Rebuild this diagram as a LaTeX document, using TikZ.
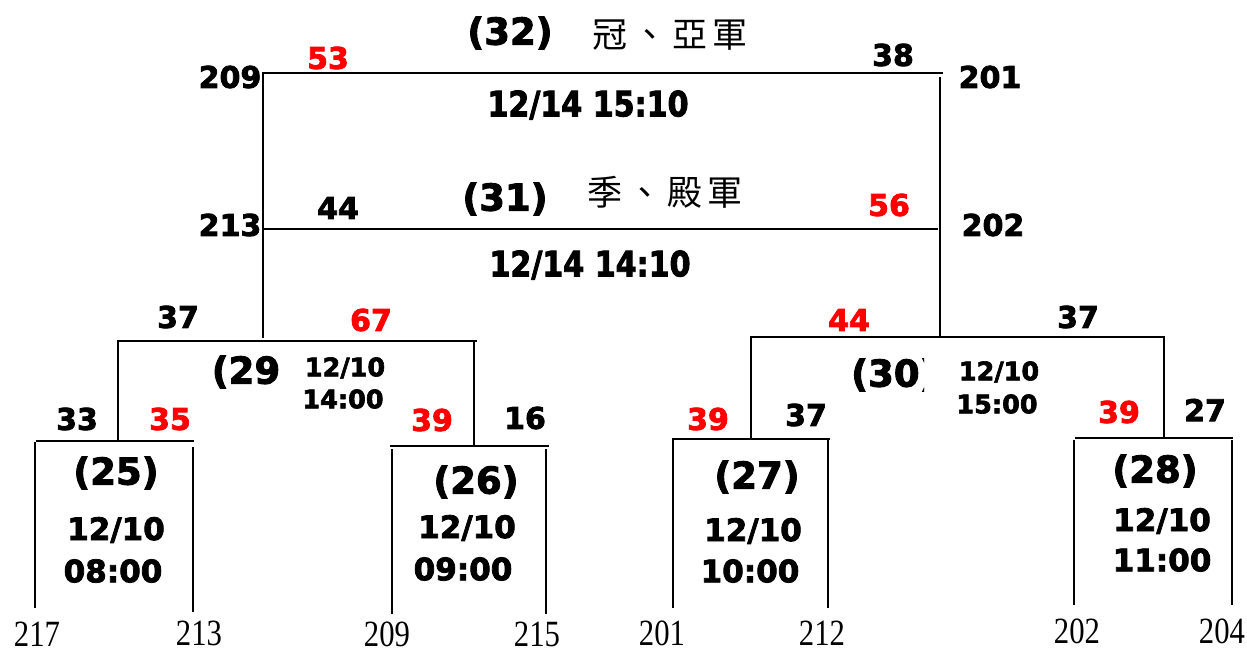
\documentclass[tikz,border=0pt]{standalone}
\usepackage{fontspec}
\newfontfamily\heavy[FakeBold=2.5]{DejaVu Sans Bold}
\newfontfamily\heavynarrow[FakeStretch=0.86,FakeBold=2.5]{DejaVu Sans Bold}
\newfontfamily\seedfont[FakeStretch=0.83]{Liberation Serif}
\newfontfamily\cjkfont[LetterSpace=14]{Noto Sans CJK TC}
\definecolor{scorered}{RGB}{255,0,0}
\tikzset{
  br/.style={line width=1.7pt, line cap=rect},
  lbl/.style={inner sep=0pt, font=\fontsize{30}{32}\heavy},
  win/.style={lbl, text=scorered},
  title/.style={inner sep=0pt, font=\fontsize{37}{39}\heavy},
  datebig/.style={inner sep=0pt, font=\fontsize{35}{37}\heavynarrow},
  datemid/.style={inner sep=0pt, font=\fontsize{31}{33}\heavy},
  datesm/.style={inner sep=0pt, font=\fontsize{25.5}{27}\heavy},
  seed/.style={inner sep=0pt, font=\fontsize{37}{39}\seedfont},
  cjk/.style={inner sep=0pt, font=\fontsize{35}{37}\cjkfont},
}
\begin{document}
\begin{tikzpicture}[x=1pt,y=-1pt]
\useasboundingbox[fill=white] (0,0) rectangle (1247,653);

% ---------- coordinates ----------
% final (32)
\coordinate (fL) at (263,73);  \coordinate (fR) at (942,73);
\coordinate (fLb) at (263,337);
\coordinate (fRt) at (940,78); \coordinate (fRb) at (940,337);
% 3rd place (31)
\coordinate (tL) at (263,229); \coordinate (tR) at (937,229);
% match 29
\coordinate (m29L) at (118,341); \coordinate (m29R) at (476,341);
\coordinate (m29Lb) at (118,441);
\coordinate (m29Rt) at (474,343); \coordinate (m29Rb) at (474,445);
% match 30
\coordinate (m30L) at (751,337); \coordinate (m30R) at (1164,337);
\coordinate (m30Lt) at (751,339); \coordinate (m30Lb) at (751,439);
\coordinate (m30Rt) at (1164,339); \coordinate (m30Rb) at (1164,438);
% match 25
\coordinate (m25L) at (37,441); \coordinate (m25R) at (193,441);
\coordinate (m25Lt) at (35,443); \coordinate (m25Lb) at (35,607);
\coordinate (m25Rt) at (193,448); \coordinate (m25Rb) at (193,611);
% match 26
\coordinate (m26L) at (391,446); \coordinate (m26R) at (548,446);
\coordinate (m26Lt) at (392,450); \coordinate (m26Lb) at (392,613);
\coordinate (m26Rt) at (546,450); \coordinate (m26Rb) at (546,613);
% match 27
\coordinate (m27L) at (673,439); \coordinate (m27R) at (829,439);
\coordinate (m27Lt) at (673,441); \coordinate (m27Lb) at (673,607);
\coordinate (m27Rt) at (828,441); \coordinate (m27Rb) at (828,607);
% match 28
\coordinate (m28L) at (1076,438); \coordinate (m28R) at (1232,438);
\coordinate (m28Lt) at (1074,441); \coordinate (m28Lb) at (1074,604);
\coordinate (m28Rt) at (1232,441); \coordinate (m28Rb) at (1232,604);

% ---------- bracket lines ----------
\draw[br] (fL) -- (fR);
\draw[br] (fL) -- (fLb);
\draw[br] (fRt) -- (fRb);
\draw[br] (tL) -- (tR);
\draw[br] (m29L) -- (m29R);
\draw[br] (m29L) -- (m29Lb);
\draw[br] (m29Rt) -- (m29Rb);
\draw[br] (m30L) -- (m30R);
\draw[br] (m30Lt) -- (m30Lb);
\draw[br] (m30Rt) -- (m30Rb);
\draw[br] (m25L) -- (m25R);
\draw[br] (m25Lt) -- (m25Lb);
\draw[br] (m25Rt) -- (m25Rb);
\draw[br] (m26L) -- (m26R);
\draw[br] (m26Lt) -- (m26Lb);
\draw[br] (m26Rt) -- (m26Rb);
\draw[br] (m27L) -- (m27R);
\draw[br] (m27Lt) -- (m27Lb);
\draw[br] (m27Rt) -- (m27Rb);
\draw[br] (m28L) -- (m28R);
\draw[br] (m28Lt) -- (m28Lb);
\draw[br] (m28Rt) -- (m28Rb);

% ---------- top: final and 3rd place ----------
\node[title] (t32) at (510,33) {(32)};
\node[cjk] (c32) at (670,35) {冠、亞軍};
\node[lbl] (s209a) at (230,77) {209};
\node[win] (sc53) at (328,58) {53};
\node[lbl] (sc38) at (893,55) {38};
\node[lbl] (s201a) at (990,77) {201};
\node[datebig] (d32) at (588,105) {12/14 15:10};

\node[title] (t31) at (505,199) {(31)};
\node[cjk] (c31) at (665,192) {季、殿軍};
\node[lbl] (sc44a) at (338,208) {44};
\node[win] (sc56) at (889,205) {56};
\node[lbl] (s213a) at (230,225) {213};
\node[lbl] (s202a) at (993,225) {202};
\node[datebig] (d31) at (590,265) {12/14 14:10};

% ---------- match 29 ----------
\node[lbl] (sc37a) at (178,317) {37};
\node[win] (sc67) at (371,320) {67};
\node[title] (t29) at (246,372) {(29};
\node[datesm] (d29a) at (345,368) {12/10};
\node[datesm] (d29b) at (343,399) {14:00};

% ---------- match 30 ----------
\node[win] (sc44b) at (849,320) {44};
\node[lbl] (sc37b) at (1078,317) {37};
\begin{scope}
\clip (840,340) rectangle (924,405);
\node[title, anchor=west] (t30) at (851,375) {(30)};
\end{scope}
\node[datesm] (d30a) at (999,372) {12/10};
\node[datesm] (d30b) at (997,404) {15:00};

% ---------- first-round scores ----------
\node[lbl] (sc33) at (77,419) {33};
\node[win] (sc35) at (170,419) {35};
\node[win] (sc39a) at (432,420) {39};
\node[lbl] (sc16) at (525,418) {16};
\node[win] (sc39b) at (708,419) {39};
\node[lbl] (sc37c) at (806,415) {37};
\node[win] (sc39c) at (1119,412) {39};
\node[lbl] (sc27) at (1205,410) {27};

% ---------- first-round matches ----------
\node[title] (t25) at (116,473) {(25)};
\node[datemid] (d25a) at (116,530) {12/10};
\node[datemid] (d25b) at (113,571) {08:00};

\node[title] (t26) at (476,482) {(26)};
\node[datemid] (d26a) at (467,528) {12/10};
\node[datemid] (d26b) at (463,569) {09:00};

\node[title] (t27) at (757,477) {(27)};
\node[datemid] (d27a) at (753,531) {12/10};
\node[datemid] (d27b) at (750,571) {10:00};

\node[title] (t28) at (1155,471) {(28)};
\node[datemid] (d28a) at (1162,521) {12/10};
\node[datemid] (d28b) at (1162,560) {11:00};

% ---------- seeds at the bottom ----------
\node[seed] (b217) at (37,634) {217};
\node[seed] (b213) at (199,633) {213};
\node[seed] (b209) at (387,634) {209};
\node[seed] (b215) at (537,634) {215};
\node[seed] (b201) at (662,633) {201};
\node[seed] (b212) at (822,633) {212};
\node[seed] (b202) at (1077,631) {202};
\node[seed] (b204) at (1222,631) {204};
\end{tikzpicture}
\end{document}
